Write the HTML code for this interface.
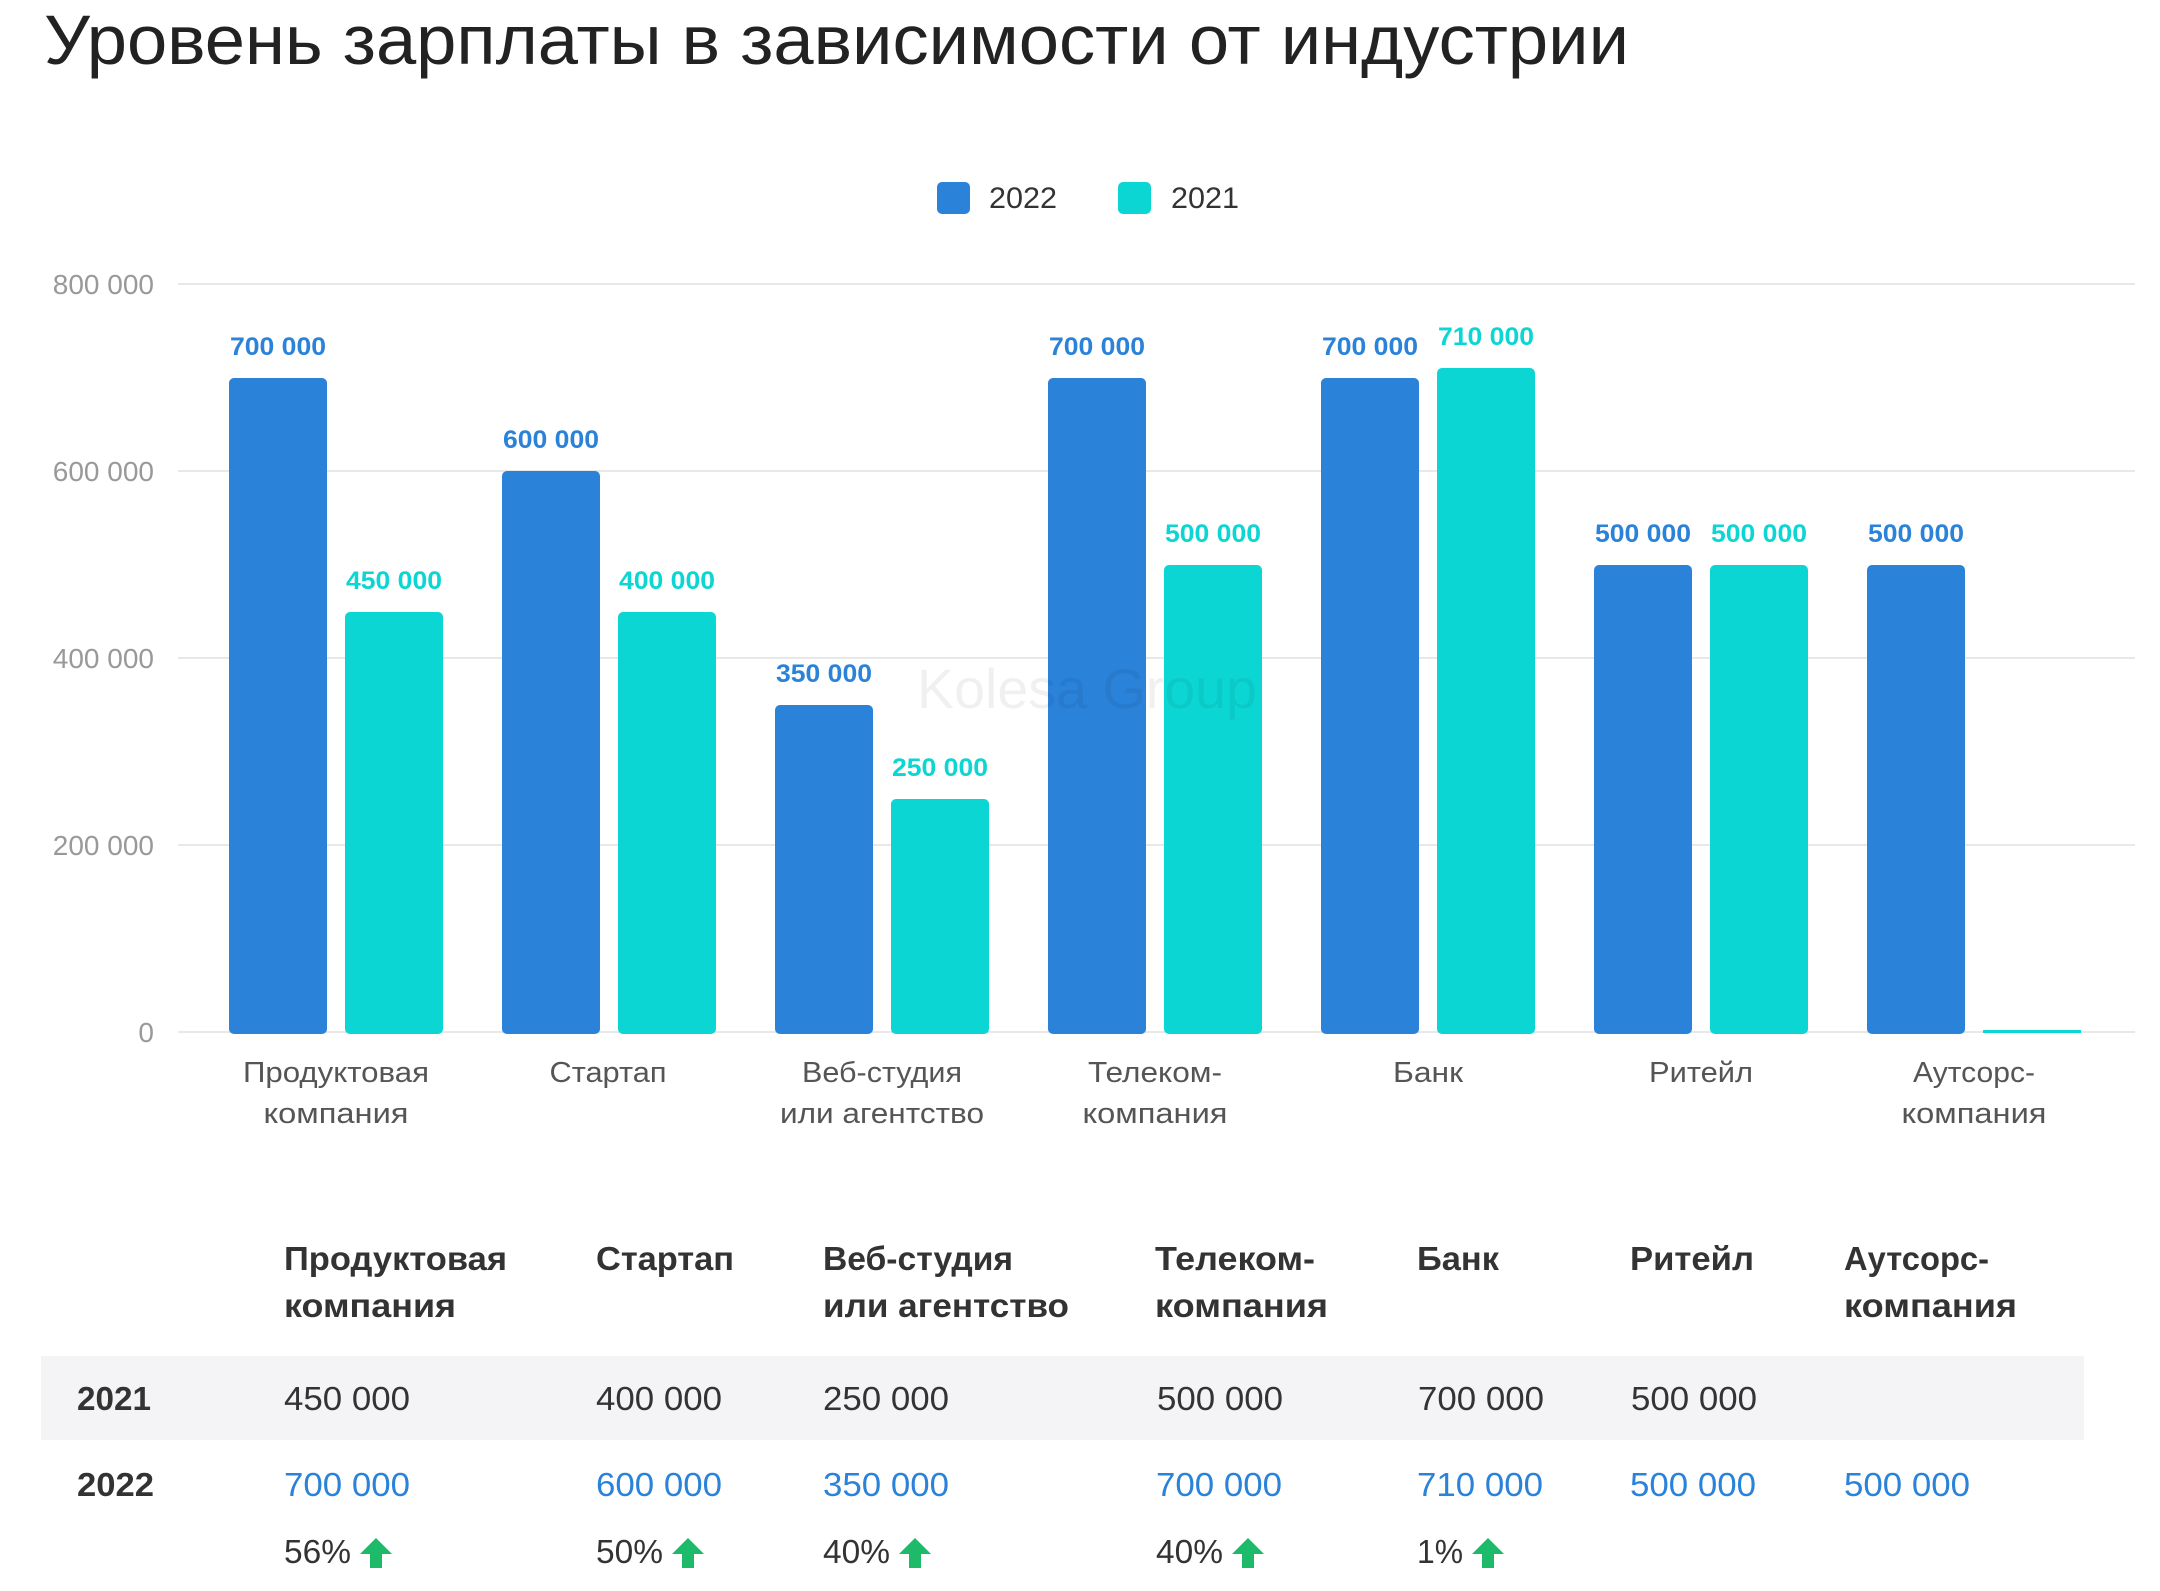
<!DOCTYPE html>
<html><head><meta charset="utf-8"><style>
html,body{margin:0;padding:0;background:#fff;}
svg{display:block}
text{font-family:"Liberation Sans","DejaVu Sans",sans-serif;}
</style></head><body>
<svg width="2160" height="1591" viewBox="0 0 2160 1591" xmlns="http://www.w3.org/2000/svg">
<rect width="2160" height="1591" fill="#fff"/>
<text x="44" y="64" font-size="70" fill="#222" textLength="1585" lengthAdjust="spacingAndGlyphs">Уровень зарплаты в зависимости от индустрии</text>

<!-- legend -->
<rect x="937" y="182" width="33" height="32" rx="5" fill="#2b82d9"/>
<text x="989" y="208" font-size="30" fill="#333" textLength="68" lengthAdjust="spacingAndGlyphs">2022</text>
<rect x="1118" y="182" width="33" height="32" rx="5" fill="#0cd6d3"/>
<text x="1171" y="208" font-size="30" fill="#333" textLength="68" lengthAdjust="spacingAndGlyphs">2021</text>

<!-- gridlines -->
<g stroke="#e8e8e8" stroke-width="2">
<line x1="178" y1="284" x2="2135" y2="284"/>
<line x1="178" y1="471" x2="2135" y2="471"/>
<line x1="178" y1="658" x2="2135" y2="658"/>
<line x1="178" y1="845" x2="2135" y2="845"/>
<line x1="178" y1="1032" x2="2135" y2="1032"/>
</g>
<g font-size="28" fill="#999" text-anchor="end">
<text x="154" y="294">800 000</text>
<text x="154" y="481">600 000</text>
<text x="154" y="668">400 000</text>
<text x="154" y="855">200 000</text>
<text x="154" y="1042">0</text>
</g>

<!-- bars -->
<g fill="#2b82d9">
<rect x="229" y="378" width="98" height="656" rx="5"/>
<rect x="502" y="471" width="98" height="563" rx="5"/>
<rect x="775" y="705" width="98" height="329" rx="5"/>
<rect x="1048" y="378" width="98" height="656" rx="5"/>
<rect x="1321" y="378" width="98" height="656" rx="5"/>
<rect x="1594" y="565" width="98" height="469" rx="5"/>
<rect x="1867" y="565" width="98" height="469" rx="5"/>
</g>
<g fill="#0cd6d3">
<rect x="345" y="612" width="98" height="422" rx="5"/>
<rect x="618" y="612" width="98" height="422" rx="5"/>
<rect x="891" y="799" width="98" height="235" rx="5"/>
<rect x="1164" y="565" width="98" height="469" rx="5"/>
<rect x="1437" y="368" width="98" height="666" rx="5"/>
<rect x="1710" y="565" width="98" height="469" rx="5"/>
<rect x="1983" y="1030" width="98" height="3"/>
</g>

<!-- watermark -->
<text x="917" y="708" font-size="56" fill="#000" fill-opacity="0.06" textLength="340" lengthAdjust="spacingAndGlyphs">Kolesa Group</text>

<!-- value labels -->
<g font-size="25" font-weight="bold" text-anchor="middle" fill="#2b82d9">
<text x="278" y="355" textLength="96" lengthAdjust="spacingAndGlyphs">700 000</text>
<text x="551" y="448" textLength="96" lengthAdjust="spacingAndGlyphs">600 000</text>
<text x="824" y="682" textLength="96" lengthAdjust="spacingAndGlyphs">350 000</text>
<text x="1097" y="355" textLength="96" lengthAdjust="spacingAndGlyphs">700 000</text>
<text x="1370" y="355" textLength="96" lengthAdjust="spacingAndGlyphs">700 000</text>
<text x="1643" y="542" textLength="96" lengthAdjust="spacingAndGlyphs">500 000</text>
<text x="1916" y="542" textLength="96" lengthAdjust="spacingAndGlyphs">500 000</text>
</g>
<g font-size="25" font-weight="bold" text-anchor="middle" fill="#0cd6d3">
<text x="394" y="589" textLength="96" lengthAdjust="spacingAndGlyphs">450 000</text>
<text x="667" y="589" textLength="96" lengthAdjust="spacingAndGlyphs">400 000</text>
<text x="940" y="776" textLength="96" lengthAdjust="spacingAndGlyphs">250 000</text>
<text x="1213" y="542" textLength="96" lengthAdjust="spacingAndGlyphs">500 000</text>
<text x="1486" y="345" textLength="96" lengthAdjust="spacingAndGlyphs">710 000</text>
<text x="1759" y="542" textLength="96" lengthAdjust="spacingAndGlyphs">500 000</text>
</g>

<!-- category labels -->
<g font-size="29" fill="#555" text-anchor="middle">
<text x="336" y="1082" textLength="186" lengthAdjust="spacingAndGlyphs">Продуктовая</text>
<text x="336" y="1123" textLength="145" lengthAdjust="spacingAndGlyphs">компания</text>
<text x="608" y="1082" textLength="117" lengthAdjust="spacingAndGlyphs">Стартап</text>
<text x="882" y="1082" textLength="160" lengthAdjust="spacingAndGlyphs">Веб-студия</text>
<text x="882" y="1123" textLength="204" lengthAdjust="spacingAndGlyphs">или агентство</text>
<text x="1155" y="1082" textLength="134" lengthAdjust="spacingAndGlyphs">Телеком-</text>
<text x="1155" y="1123" textLength="145" lengthAdjust="spacingAndGlyphs">компания</text>
<text x="1428" y="1082" textLength="70" lengthAdjust="spacingAndGlyphs">Банк</text>
<text x="1701" y="1082" textLength="104" lengthAdjust="spacingAndGlyphs">Ритейл</text>
<text x="1974" y="1082" textLength="122" lengthAdjust="spacingAndGlyphs">Аутсорс-</text>
<text x="1974" y="1123" textLength="145" lengthAdjust="spacingAndGlyphs">компания</text>
</g>

<!-- table header -->
<g font-size="33" font-weight="bold" fill="#333">
<text x="284" y="1270" textLength="223" lengthAdjust="spacingAndGlyphs">Продуктовая</text>
<text x="284" y="1317" textLength="172" lengthAdjust="spacingAndGlyphs">компания</text>
<text x="596" y="1270" textLength="138" lengthAdjust="spacingAndGlyphs">Стартап</text>
<text x="823" y="1270" textLength="190" lengthAdjust="spacingAndGlyphs">Веб-студия</text>
<text x="823" y="1317" textLength="246" lengthAdjust="spacingAndGlyphs">или агентство</text>
<text x="1155" y="1270" textLength="160" lengthAdjust="spacingAndGlyphs">Телеком-</text>
<text x="1155" y="1317" textLength="173" lengthAdjust="spacingAndGlyphs">компания</text>
<text x="1417" y="1270" textLength="82" lengthAdjust="spacingAndGlyphs">Банк</text>
<text x="1630" y="1270" textLength="124" lengthAdjust="spacingAndGlyphs">Ритейл</text>
<text x="1844" y="1270" textLength="145" lengthAdjust="spacingAndGlyphs">Аутсорс-</text>
<text x="1844" y="1317" textLength="173" lengthAdjust="spacingAndGlyphs">компания</text>
</g>

<rect x="41" y="1356" width="2043" height="84" fill="#f4f4f6"/>
<g font-size="33" fill="#333">
<text x="77" y="1410" font-weight="bold" textLength="74" lengthAdjust="spacingAndGlyphs">2021</text>
<text x="284" y="1410" textLength="126" lengthAdjust="spacingAndGlyphs">450 000</text>
<text x="596" y="1410" textLength="126" lengthAdjust="spacingAndGlyphs">400 000</text>
<text x="823" y="1410" textLength="126" lengthAdjust="spacingAndGlyphs">250 000</text>
<text x="1157" y="1410" textLength="126" lengthAdjust="spacingAndGlyphs">500 000</text>
<text x="1418" y="1410" textLength="126" lengthAdjust="spacingAndGlyphs">700 000</text>
<text x="1631" y="1410" textLength="126" lengthAdjust="spacingAndGlyphs">500 000</text>
<text x="77" y="1496" font-weight="bold" textLength="77" lengthAdjust="spacingAndGlyphs">2022</text>
</g>
<g font-size="33" fill="#2b82d9">
<text x="284" y="1496" textLength="126" lengthAdjust="spacingAndGlyphs">700 000</text>
<text x="596" y="1496" textLength="126" lengthAdjust="spacingAndGlyphs">600 000</text>
<text x="823" y="1496" textLength="126" lengthAdjust="spacingAndGlyphs">350 000</text>
<text x="1156" y="1496" textLength="126" lengthAdjust="spacingAndGlyphs">700 000</text>
<text x="1417" y="1496" textLength="126" lengthAdjust="spacingAndGlyphs">710 000</text>
<text x="1630" y="1496" textLength="126" lengthAdjust="spacingAndGlyphs">500 000</text>
<text x="1844" y="1496" textLength="126" lengthAdjust="spacingAndGlyphs">500 000</text>
</g>
<g font-size="33" fill="#333">
<text x="284" y="1563" textLength="67" lengthAdjust="spacingAndGlyphs">56%</text>
<text x="596" y="1563" textLength="67" lengthAdjust="spacingAndGlyphs">50%</text>
<text x="823" y="1563" textLength="67" lengthAdjust="spacingAndGlyphs">40%</text>
<text x="1156" y="1563" textLength="67" lengthAdjust="spacingAndGlyphs">40%</text>
<text x="1417" y="1563" textLength="46" lengthAdjust="spacingAndGlyphs">1%</text>
</g>
<defs><path id="ar" d="M16 0 L32 16 L22 16 L22 30 L10 30 L10 16 L0 16 Z" fill="#1dba6a"/></defs>
<use href="#ar" x="360" y="1538"/>
<use href="#ar" x="672" y="1538"/>
<use href="#ar" x="899" y="1538"/>
<use href="#ar" x="1232" y="1538"/>
<use href="#ar" x="1472" y="1538"/>
</svg>
</body></html>
